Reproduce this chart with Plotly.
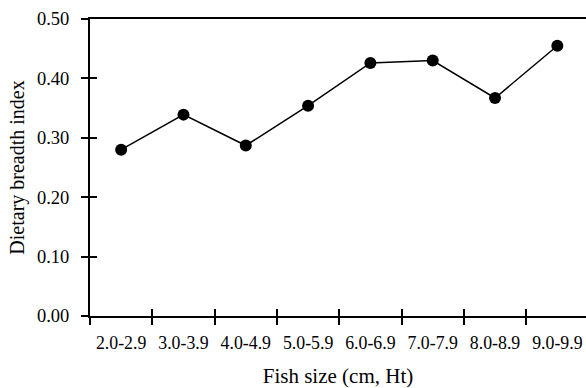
import plotly.graph_objects as go

categories = ["2.0-2.9", "3.0-3.9", "4.0-4.9", "5.0-5.9", "6.0-6.9", "7.0-7.9", "8.0-8.9", "9.0-9.9"]
breadth = [0.280, 0.339, 0.287, 0.354, 0.426, 0.430, 0.367, 0.455]
y_ticks = [0.0, 0.1, 0.2, 0.3, 0.4, 0.5]

FONT = "Liberation Serif"

fig = go.Figure()
fig.add_trace(go.Scatter(
    x=categories, y=breadth, mode="lines+markers",
    line=dict(color="black", width=1.5),
    marker=dict(color="black", size=12),
    showlegend=False, cliponaxis=False,
))

xrange = [-0.5, 7.46]
common_x = dict(type="category", categoryorder="array", categoryarray=categories,
                range=xrange, tickson="boundaries", tickwidth=1.5, tickcolor="black",
                ticklen=7, showgrid=False, zeroline=False, automargin=False)
common_y = dict(range=[0, 0.5], tickvals=y_ticks, tickwidth=1.5, tickcolor="black",
                ticklen=7, showgrid=False, zeroline=False, automargin=False)

fig.update_layout(
    template="none",
    width=586, height=388,
    margin=dict(l=90, r=0, t=19, b=72),
    plot_bgcolor="white", paper_bgcolor="white",
    font=dict(family=FONT, size=18, color="black"),
    xaxis=dict(**common_x, ticks="outside", showline=True, linecolor="black", linewidth=2,
               mirror=True,
               tickfont=dict(size=17.8, color="black"),
               ticklabelstandoff=10,
               title=dict(text="Fish size (cm, Ht)", font=dict(size=21, color="black"), standoff=24)),
    yaxis=dict(**common_y, ticks="outside", tickformat=".2f", showline=True,
               linecolor="black", linewidth=2, tickfont=dict(size=18.5, color="black"),
               ticklabelstandoff=8,
               title=dict(text="Dietary breadth index", font=dict(size=20, color="black"), standoff=7)),
    xaxis2=dict(**common_x, overlaying="x", anchor="y", side="bottom", ticks="inside",
                showticklabels=False, showline=False),
    yaxis2=dict(**common_y, overlaying="y", anchor="x", side="left", ticks="inside",
                showticklabels=False, showline=False),
)
# invisible trace to activate the overlay axes (for crossing ticks)
fig.add_trace(go.Scatter(x=categories, y=breadth, xaxis="x2", yaxis="y2", mode="none",
                         showlegend=False, hoverinfo="skip"))

fig.write_html("out.html", config={"displayModeBar": False},
               post_script="document.body.style.margin='0';")
